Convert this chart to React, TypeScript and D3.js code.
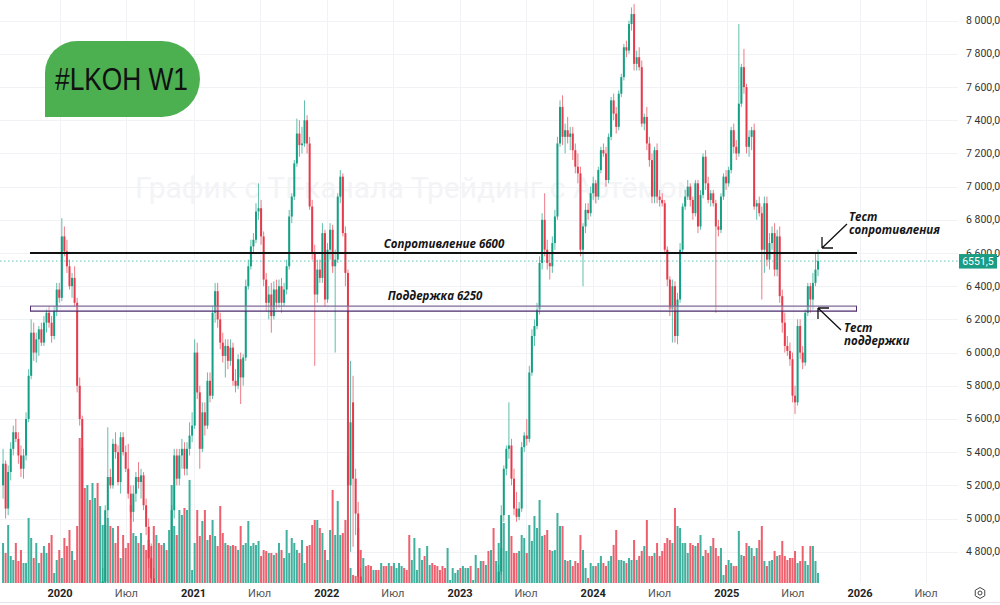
import { useEffect, useRef } from 'react'
import * as d3 from 'd3'

// weekly candles: [open, high, low, close]
type Candle = [number, number, number, number]

const firstWeek = new Date(2019, 6, 29)

const candles2019: Candle[] = [
  [5200, 5420, 5120, 5330], [5330, 5350, 5000, 5060], [5060, 5320, 5020, 5280], [5280, 5460, 5230, 5420],
  [5420, 5560, 5380, 5520], [5520, 5600, 5460, 5480], [5480, 5520, 5330, 5380], [5380, 5440, 5250, 5300],
  [5300, 5420, 5240, 5380], [5380, 5640, 5350, 5600], [5600, 5900, 5580, 5860], [5860, 6200, 5840, 6120],
  [6120, 6180, 5950, 6000], [6000, 6120, 5940, 6080], [6080, 6160, 5980, 6140], [6140, 6180, 6040, 6060],
  [6060, 6220, 6040, 6180], [6180, 6260, 6120, 6240], [6240, 6280, 6150, 6180], [6180, 6220, 6060, 6100],
  [6100, 6280, 6080, 6250], [6250, 6420, 6220, 6380], [6380, 6420, 6300, 6330],
]

const candles2020: Candle[] = [
  [6330, 6810, 6310, 6700], [6700, 6760, 6580, 6610], [6610, 6680, 6480, 6520], [6520, 6560, 6380, 6400],
  [6400, 6480, 6330, 6450], [6450, 6520, 6280, 6300], [6300, 6330, 5760, 5800], [5800, 5850, 5560, 5600],
  [5600, 5620, 4300, 4450], [4450, 4600, 3700, 4000], [4000, 4300, 3600, 4150], [4150, 4350, 3900, 4050],
  [4050, 4400, 4000, 4300], [4300, 4500, 4200, 4450], [4450, 4550, 4250, 4350], [4350, 4600, 4300, 4550],
  [4550, 4700, 4450, 4620], [4620, 5080, 4600, 5050], [5050, 5550, 5000, 5250], [5250, 5300, 5180, 5200],
  [5200, 5480, 5180, 5450], [5450, 5520, 5360, 5400], [5400, 5440, 5200, 5220], [5220, 5520, 5150, 5490],
  [5490, 5520, 5380, 5400], [5400, 5440, 5280, 5300], [5300, 5450, 5120, 5150], [5150, 5200, 5000, 5040],
  [5040, 5200, 4980, 5150], [5150, 5280, 5100, 5250], [5250, 5340, 5180, 5220], [5220, 5300, 5120, 5260],
  [5260, 5280, 5050, 5080], [5080, 5120, 4900, 4950], [4950, 5000, 4700, 4760], [4760, 4850, 4600, 4640],
  [4640, 4700, 4400, 4450], [4450, 4600, 4380, 4520], [4520, 4560, 4250, 4300], [4300, 4380, 4100, 4150],
  [4150, 4250, 4050, 4200], [4200, 4280, 4000, 4080], [4080, 4500, 4060, 4450], [4450, 5080, 4420, 5050],
  [5050, 5420, 5000, 5380], [5380, 5420, 5200, 5240], [5240, 5420, 5200, 5380], [5380, 5480, 5300, 5420],
  [5420, 5460, 5260, 5300], [5300, 5460, 5260, 5420], [5420, 5580, 5380, 5500], [5500, 5640, 5460, 5560],
]

const candles2021: Candle[] = [
  [5560, 6080, 5540, 6000], [6000, 6060, 5720, 5760], [5760, 5800, 5300, 5420], [5420, 5700, 5400, 5640],
  [5640, 5700, 5500, 5560], [5560, 5880, 5540, 5830], [5830, 5880, 5700, 5740], [5740, 6280, 5720, 6240],
  [6240, 6420, 6180, 6370], [6370, 6420, 6150, 6200], [6200, 6240, 6020, 6060], [6060, 6120, 5940, 5980],
  [5980, 6080, 5850, 6040], [6040, 6080, 5900, 5950], [5950, 6080, 5920, 6030], [6030, 6060, 5800, 5830],
  [5830, 5900, 5760, 5800], [5800, 5990, 5780, 5960], [5960, 6000, 5690, 5850], [5850, 5990, 5800, 5970],
  [5970, 6440, 5950, 6400], [6400, 6560, 6380, 6520], [6520, 6680, 6500, 6640], [6640, 6720, 6600, 6680],
  [6680, 6900, 6660, 6850], [6850, 7020, 6800, 6870], [6870, 6920, 6650, 6700], [6700, 6730, 6400, 6440],
  [6440, 6480, 6250, 6300], [6300, 6400, 6200, 6350], [6350, 6420, 6120, 6220], [6220, 6430, 6200, 6380],
  [6380, 6440, 6260, 6300], [6300, 6440, 6270, 6400], [6400, 6450, 6240, 6300], [6300, 6420, 6280, 6380],
  [6380, 6560, 6350, 6520], [6520, 6860, 6500, 6820], [6820, 6960, 6780, 6940], [6940, 7160, 6920, 7140],
  [7140, 7410, 7120, 7320], [7320, 7400, 7180, 7250], [7250, 7360, 7200, 7260], [7260, 7520, 7240, 7400],
  [7400, 7430, 7200, 7260], [7260, 7300, 6860, 6880], [6880, 6920, 6560, 6600], [6600, 6650, 5920, 6350],
  [6350, 6560, 6300, 6500], [6500, 6560, 6420, 6450], [6450, 6780, 6420, 6720], [6720, 6740, 6280, 6320],
]

const candles2022: Candle[] = [
  [6320, 6660, 6300, 6620], [6620, 6780, 6560, 6740], [6740, 6770, 6480, 6520], [6520, 6620, 6000, 6560],
  [6560, 6960, 6540, 6940], [6940, 7100, 6900, 7060], [7060, 7080, 6700, 6720], [6720, 6760, 6400, 6480],
  [6480, 6500, 2900, 5200], [5200, 5950, 4800, 5580], [5700, 5860, 4830, 5240], [5240, 5300, 4900, 5030],
  [5030, 5100, 4500, 4650], [4650, 4700, 4300, 4420], [4420, 4600, 4350, 4550], [4550, 4600, 4400, 4480],
  [4480, 4560, 4350, 4400], [4400, 4500, 4250, 4300], [4300, 4420, 4200, 4380], [4380, 4450, 4250, 4280],
  [4280, 4350, 4100, 4150], [4150, 4250, 4050, 4200], [4200, 4300, 4100, 4120], [4120, 4200, 3950, 4000],
  [4000, 4100, 3900, 4050], [4050, 4150, 3950, 3980], [3980, 4080, 3900, 4020], [4020, 4200, 4000, 4150],
  [4150, 4300, 4100, 4250], [4250, 4400, 4200, 4350], [4350, 4450, 4250, 4300], [4300, 4400, 4150, 4200],
  [4200, 4250, 3700, 3850], [3850, 4000, 3650, 3950], [3950, 4150, 3900, 4100], [4100, 4200, 4000, 4150],
  [4150, 4250, 4050, 4200], [4200, 4350, 4150, 4300], [4300, 4400, 4200, 4250], [4250, 4350, 4150, 4320],
  [4320, 4420, 4250, 4380], [4380, 4450, 4300, 4350], [4350, 4400, 4200, 4250], [4250, 4350, 4150, 4200],
  [4200, 4300, 4100, 4150], [4150, 4250, 4050, 4100], [4100, 4200, 4000, 4050], [4050, 4150, 3950, 4080],
  [4080, 4150, 4000, 4100], [4100, 4200, 4050, 4150], [4150, 4250, 4100, 4200], [4200, 4300, 4150, 4250],
]

const candles2023: Candle[] = [
  [4250, 4300, 4150, 4200], [4200, 4350, 4150, 4300], [4300, 4400, 4250, 4350], [4350, 4450, 4300, 4420],
  [4420, 4480, 4350, 4380], [4380, 4450, 4300, 4400], [4400, 4500, 4350, 4450], [4450, 4520, 4380, 4420],
  [4420, 4500, 4350, 4480], [4480, 4550, 4400, 4450], [4450, 4550, 4420, 4520], [4520, 4600, 4450, 4500],
  [4500, 4600, 4450, 4580], [4580, 4620, 4480, 4520], [4520, 4600, 4450, 4560], [4560, 4720, 4520, 4680],
  [4680, 5080, 4660, 5020], [5020, 5320, 4980, 5300], [5300, 5440, 5260, 5420], [5420, 5700, 5360, 5440],
  [5440, 5480, 5200, 5240], [5240, 5300, 5020, 5060], [5060, 5160, 4980, 5010], [5010, 5100, 4990, 5060],
  [5060, 5460, 5040, 5430], [5430, 5520, 5400, 5500], [5500, 5600, 5440, 5480], [5480, 5920, 5460, 5880],
  [5880, 6140, 5860, 6100], [6100, 6200, 6040, 6160], [6160, 6300, 6140, 6260], [6260, 6580, 6230, 6540],
  [6540, 6840, 6500, 6800], [6800, 6960, 6580, 6620], [6620, 6680, 6500, 6540], [6540, 6600, 6440, 6520],
  [6520, 6700, 6480, 6660], [6660, 6860, 6620, 6820], [6820, 7300, 6800, 7260], [7260, 7520, 7240, 7480],
  [7480, 7550, 7250, 7300], [7300, 7380, 7200, 7340], [7340, 7420, 7260, 7300], [7300, 7360, 7220, 7320],
  [7320, 7360, 7160, 7220], [7220, 7260, 7080, 7120], [7120, 7200, 7020, 7080], [7080, 7120, 6580, 6620],
  [6620, 6780, 6400, 6760], [6760, 6900, 6720, 6860], [6860, 6900, 6800, 6840], [6840, 7000, 6820, 6960],
]

const candles2024: Candle[] = [
  [6960, 7060, 6920, 7020], [7020, 7040, 6900, 6940], [6940, 7120, 6920, 7100], [7100, 7240, 7080, 7220],
  [7220, 7260, 7180, 7200], [7200, 7240, 7000, 7040], [7040, 7320, 7020, 7300], [7300, 7540, 7280, 7520],
  [7520, 7560, 7400, 7440], [7440, 7480, 7320, 7360], [7360, 7580, 7340, 7560], [7560, 7680, 7540, 7660],
  [7660, 7860, 7640, 7840], [7840, 7880, 7780, 7820], [7820, 8000, 7800, 7980], [7980, 8080, 7940, 8040],
  [8040, 8100, 7700, 7740], [7740, 7820, 7700, 7780], [7780, 7840, 7700, 7720], [7720, 7760, 7360, 7380],
  [7380, 7440, 7340, 7420], [7420, 7480, 7220, 7260], [7260, 7300, 7120, 7160], [7160, 7200, 6900, 6940],
  [6940, 7240, 6900, 7220], [7220, 7260, 6900, 6940], [6940, 6980, 6880, 6920], [6920, 6960, 6880, 6900],
  [6900, 6920, 6600, 6620], [6620, 6640, 6400, 6440], [6440, 6460, 6220, 6260], [6260, 6440, 6060, 6400],
  [6400, 6430, 6060, 6100], [6100, 6360, 6050, 6320], [6320, 6660, 6300, 6620], [6620, 6900, 6600, 6880],
  [6880, 6980, 6860, 6940], [6940, 7040, 6920, 7000], [7000, 7020, 6880, 6920], [6920, 6940, 6800, 6840],
  [6840, 7040, 6820, 7020], [7020, 7040, 6720, 6760], [6760, 6980, 6740, 6950], [6950, 7200, 6930, 7180],
  [7180, 7220, 6980, 7020], [7020, 7060, 6900, 6920], [6920, 6980, 6880, 6960], [6960, 6980, 6880, 6900],
  [6900, 6920, 6240, 6760], [6760, 6800, 6700, 6740], [6740, 6960, 6720, 6940], [6940, 7080, 6920, 7060],
  [7060, 7100, 6980, 7020],
]

const candles2025: Candle[] = [
  [7020, 7120, 7000, 7100], [7100, 7360, 7080, 7340], [7340, 7380, 7200, 7240], [7240, 7280, 7160, 7200],
  [7200, 7980, 7180, 7500], [7500, 7740, 7480, 7720], [7720, 7830, 7560, 7600], [7600, 7620, 7200, 7240],
  [7240, 7340, 7180, 7300], [7300, 7360, 7220, 7340], [7340, 7380, 6860, 6880], [6880, 6920, 6800, 6900],
  [6900, 6940, 6820, 6840], [6840, 6880, 6320, 6620], [6620, 6940, 6480, 6900], [6900, 6940, 6520, 6560],
  [6560, 6720, 6500, 6660], [6660, 6760, 6620, 6720], [6720, 6780, 6460, 6500], [6500, 6740, 6460, 6700],
  [6700, 6760, 6300, 6340], [6340, 6380, 6120, 6180], [6180, 6240, 6000, 6040], [6040, 6100, 5980, 6010],
  [6010, 6060, 5920, 5960], [5960, 6000, 5700, 5740], [5740, 5800, 5630, 5700], [5700, 6200, 5680, 6160],
  [6160, 6200, 5960, 6000], [6000, 6040, 5900, 5940], [5940, 6260, 5920, 6240], [6240, 6420, 6220, 6400],
  [6400, 6420, 6240, 6320], [6320, 6480, 6260, 6420], [6420, 6600, 6400, 6500], [6500, 6620, 6460, 6551.5],
]

// weekly volume, millions of shares
const volume2019 = [4.0, 3.0, 5.8, 2.7, 2.3, 4.0, 2.2, 3.3, 2.0, 2.0, 6.5, 4.5, 2.5, 4.0, 2.0, 3.0, 3.7, 3.0, 4.0, 4.8, 1.0, 2.3, 3.3]
const volume2020 = [2.5, 4.5, 3.7, 5.3, 3.2, 2.3, 5.7, 14.5, 13.5, 9.5, 9.8, 8.3, 10.0, 8.5, 10.0, 7.7, 5.8, 5.8, 6.5, 5.7,
  5.5, 4.0, 5.7, 2.5, 4.8, 3.5, 4.0, 7.8, 5.0, 4.7, 4.0, 5.0, 3.8, 3.3, 4.3, 3.7, 5.7, 4.8, 4.0, 3.8,
  4.0, 3.3, 5.3, 9.8, 5.7, 4.8, 7.3, 6.8, 7.5, 7.3, 10.3, 1.3]
const volume2021 = [4.0, 7.3, 4.7, 6.2, 7.3, 4.3, 4.8, 6.3, 4.7, 3.7, 7.7, 5.0, 4.0, 3.8, 3.7, 3.8, 3.7, 3.3, 5.7, 3.8,
  4.0, 6.2, 3.7, 4.0, 3.8, 4.2, 2.7, 3.3, 3.2, 3.0, 3.0, 2.8, 3.0, 4.0, 3.3, 2.5, 5.3, 3.0, 4.5, 4.0,
  3.3, 3.0, 4.3, 2.0, 3.7, 3.8, 5.8, 6.3, 6.3, 5.5, 5.0, 3.3]
const volume2022 = [2.3, 5.3, 9.3, 4.8, 8.2, 4.8, 5.0, 6.3, 12.7, 1.5, 0.8, 0.7, 5.5, 3.3, 2.5, 1.7, 1.8, 1.7, 1.3, 1.3,
  1.3, 2.0, 1.7, 1.7, 2.0, 1.7, 2.0, 1.5, 2.0, 1.7, 1.5, 1.3, 4.8, 2.3, 4.5, 1.3, 3.5, 2.3, 2.7, 3.7,
  1.8, 2.0, 1.8, 1.7, 1.3, 1.7, 1.5, 3.5, 0.3, 1.5, 1.0, 1.3]
const volume2023 = [1.5, 1.7, 1.5, 1.5, 1.7, 0.3, 2.8, 1.5, 2.2, 2.2, 1.8, 3.2, 3.3, 5.5, 2.2, 4.0, 3.5, 6.0, 3.2, 6.8,
  4.7, 3.0, 3.0, 3.2, 4.8, 4.5, 3.0, 5.8, 4.2, 6.7, 5.5, 8.3, 4.7, 4.8, 5.3, 3.3, 3.2, 3.3, 7.0, 5.7,
  5.7, 2.3, 2.2, 2.3, 1.7, 2.2, 2.0, 4.8, 3.3, 1.5, 0.5, 2.0]
const volume2024 = [1.7, 1.7, 2.0, 2.7, 2.0, 1.7, 2.2, 2.7, 3.8, 5.3, 2.3, 2.3, 2.2, 2.0, 2.5, 2.3, 4.3, 2.3, 2.7, 3.2,
  3.7, 6.3, 2.7, 2.7, 3.0, 4.0, 2.7, 3.2, 4.0, 4.5, 4.3, 4.0, 7.5, 5.7, 5.5, 4.0, 4.0, 3.0, 4.0, 3.8,
  3.7, 4.0, 4.8, 2.7, 3.3, 3.0, 3.7, 4.5, 3.5, 2.7, 3.5, 0.8, 1.8]
const volume2025 = [2.3, 2.0, 1.7, 1.7, 5.2, 2.8, 2.7, 4.0, 3.7, 3.5, 2.7, 3.5, 4.3, 5.7, 2.2, 1.7, 2.2, 2.3, 3.2, 2.7,
  2.8, 4.2, 2.7, 2.3, 2.5, 2.5, 3.2, 2.0, 2.2, 3.7, 2.2, 1.8, 3.7, 3.7, 2.2, 1.0]

const priceTicks = [4800, 5000, 5200, 5400, 5600, 5800, 6000, 6200, 6400, 6600, 6800, 7000, 7200, 7400, 7600, 7800, 8000]
const timeTicks = ['2020-01-01', '2020-07-01', '2021-01-01', '2021-07-01', '2022-01-01', '2022-07-01', '2023-01-01',
  '2023-07-01', '2024-01-01', '2024-07-01', '2025-01-01', '2025-07-01', '2026-01-01', '2026-07-01']
const timeLabels = ['2020', 'Июл', '2021', 'Июл', '2022', 'Июл', '2023', 'Июл', '2024', 'Июл', '2025', 'Июл', '2026', 'Июл']

const resistance = 6600
const supportBand = [6250, 6280]
const lastPrice = 6551.5

const UP = '#14a085'
const DOWN = '#e63b4c'
const UI_FONT = 'Roboto, "Liberation Sans", sans-serif'
const NOTE_FONT = '"Open Sans", "Noto Sans", sans-serif'

export default function App() {
  const svgRef = useRef<SVGSVGElement>(null)

  useEffect(() => {
    if (!svgRef.current) return
    const candles = [...candles2019, ...candles2020, ...candles2021, ...candles2022, ...candles2023, ...candles2024, ...candles2025]
    const volumes = [...volume2019, ...volume2020, ...volume2021, ...volume2022, ...volume2023, ...volume2024, ...volume2025]

    const width = 1000
    const plotRight = 958
    const plotBottom = 583

    const svg = d3.select(svgRef.current)
    svg.selectAll('*').remove()
    svg.attr('width', width).attr('height', 605)

    const x = d3.scaleTime()
      .domain([new Date(2020, 0, 1), new Date(2026, 0, 1)])
      .range([60, 860])
    const y = d3.scaleLinear().domain([4800, 8000]).range([551.7, 20.7])
    const vy = d3.scaleLinear().domain([0, 15]).range([plotBottom, plotBottom - 150])

    const weekX = (i: number) => x(d3.timeDay.offset(firstWeek, 7 * i))

    svg.append('rect').attr('width', width).attr('height', 605).attr('fill', '#fff')

    // grid
    const grid = svg.append('g').attr('stroke', '#f0f2f6').attr('stroke-width', 1)
    priceTicks.forEach(p => {
      grid.append('line').attr('x1', 0).attr('x2', plotRight).attr('y1', Math.round(y(p)) + 0.5).attr('y2', Math.round(y(p)) + 0.5)
    })
    timeTicks.forEach(t => {
      const tx = Math.round(x(new Date(t))) + 0.5
      grid.append('line').attr('x1', tx).attr('x2', tx).attr('y1', 0).attr('y2', plotBottom)
    })

    // watermark
    svg.append('text')
      .attr('x', 135).attr('y', 198)
      .attr('font-family', UI_FONT).attr('font-size', 30)
      .attr('fill', '#f3f4f6')
      .text('График с ТГ-канала Трейдинг с Артёмом')

    const clip = svg.append('defs').append('clipPath').attr('id', 'plot-clip')
    clip.append('rect').attr('x', 0).attr('y', 0).attr('width', plotRight).attr('height', plotBottom)
    const plot = svg.append('g').attr('clip-path', 'url(#plot-clip)')

    // volume
    const vol = plot.append('g')
    volumes.forEach((v, i) => {
      const [o, , , c] = candles[i]
      const cx = weekX(i)
      vol.append('rect')
        .attr('x', cx - 1).attr('y', vy(v))
        .attr('width', 2).attr('height', plotBottom - vy(v))
        .attr('fill', c >= o ? '#2aa893' : '#ec4f5e')
        .attr('opacity', 0.9)
    })

    // candles
    const cg = plot.append('g')
    candles.forEach(([o, h, l, c], i) => {
      const cx = weekX(i)
      const col = c >= o ? UP : DOWN
      cg.append('line')
        .attr('x1', cx).attr('x2', cx)
        .attr('y1', y(h)).attr('y2', y(l))
        .attr('stroke', col).attr('stroke-width', 0.9).attr('opacity', 0.75)
      const top = y(Math.max(o, c))
      cg.append('rect')
        .attr('x', cx - 1).attr('y', top)
        .attr('width', 2).attr('height', Math.max(1, y(Math.min(o, c)) - top))
        .attr('fill', col)
    })

    // last price line
    svg.append('line')
      .attr('x1', 0).attr('x2', plotRight)
      .attr('y1', y(lastPrice)).attr('y2', y(lastPrice))
      .attr('stroke', '#3fb3a0').attr('stroke-width', 1).attr('stroke-dasharray', '1.5 2.5').attr('opacity', 0.8)

    // support band
    const bandTop = y(supportBand[1])
    const bandBottom = y(supportBand[0])
    svg.append('rect')
      .attr('x', 30).attr('y', bandTop).attr('width', 827).attr('height', bandBottom - bandTop)
      .attr('fill', '#efe4f7').attr('opacity', 0.35)
    svg.append('line').attr('x1', 30).attr('x2', 857).attr('y1', bandTop).attr('y2', bandTop)
      .attr('stroke', '#7f6b96').attr('stroke-width', 1.4)
    svg.append('line').attr('x1', 30).attr('x2', 857).attr('y1', bandBottom).attr('y2', bandBottom)
      .attr('stroke', '#4b2b6d').attr('stroke-width', 1.4)
    svg.append('line').attr('x1', 30.5).attr('x2', 30.5).attr('y1', bandTop).attr('y2', bandBottom)
      .attr('stroke', '#4b2b6d').attr('stroke-width', 1)
    svg.append('line').attr('x1', 856.5).attr('x2', 856.5).attr('y1', bandTop).attr('y2', bandBottom)
      .attr('stroke', '#4b2b6d').attr('stroke-width', 1)

    // resistance
    svg.append('line')
      .attr('x1', 30).attr('x2', 857).attr('y1', y(resistance)).attr('y2', y(resistance))
      .attr('stroke', '#111').attr('stroke-width', 2)

    const note = (tx: number, ty: number, s: string, size = 11.5) =>
      svg.append('text')
        .attr('x', tx).attr('y', ty)
        .attr('font-family', NOTE_FONT).attr('font-size', size)
        .attr('font-style', 'italic').attr('font-weight', 700)
        .attr('fill', '#151515')
        .text(s)

    note(444, y(resistance) - 5, 'Сопротивление 6600').attr('text-anchor', 'middle')
    note(435, bandTop - 6, 'Поддержка 6250').attr('text-anchor', 'middle')
    note(849, 221, 'Тест')
    note(849, 234, 'сопротивления')
    note(844, 332, 'Тест')
    note(844, 345, 'поддержки')

    // arrows
    const arrows = svg.append('g').attr('stroke', '#111').attr('stroke-width', 1.3).attr('fill', 'none')
    arrows.append('path').attr('d', 'M847,224 L822,248 M822,248 L833,248 M822,248 L822,237')
    arrows.append('path').attr('d', 'M841,330 L818,308 M818,308 L829,308 M818,308 L818,319')

    // price axis
    const numFmt = d3.formatLocale({ decimal: ',', thousands: ' ', grouping: [3], currency: ['', ''] })
    const axisFmt = numFmt.format(',.1f')
    const lastFmt = numFmt.format('.1f')
    priceTicks.forEach(p => {
      svg.append('text')
        .attr('x', 966).attr('y', y(p) + 3.5)
        .attr('font-family', UI_FONT).attr('font-size', 10.5)
        .attr('fill', '#333').text(axisFmt(p))
    })
    svg.append('rect')
      .attr('x', 959).attr('y', y(lastPrice) - 7).attr('width', 38).attr('height', 14.5)
      .attr('fill', '#1a9c85')
    svg.append('text')
      .attr('x', 978).attr('y', y(lastPrice) + 4)
      .attr('text-anchor', 'middle')
      .attr('font-family', UI_FONT).attr('font-size', 10.5)
      .attr('fill', '#fff').text(lastFmt(lastPrice))

    // time axis
    timeTicks.forEach((t, i) => {
      const isYear = timeLabels[i] !== 'Июл'
      svg.append('text')
        .attr('x', x(new Date(t))).attr('y', 597)
        .attr('text-anchor', 'middle')
        .attr('font-family', UI_FONT).attr('font-size', 11)
        .attr('font-weight', isYear ? 700 : 400)
        .attr('fill', isYear ? '#222' : '#555')
        .text(timeLabels[i])
    })
    svg.append('line').attr('x1', 0).attr('x2', width).attr('y1', 602.5).attr('y2', 602.5)
      .attr('stroke', '#e3e5ea')

    // settings icon
    const gear = svg.append('g').attr('fill', 'none').attr('stroke', '#444').attr('stroke-width', 1)
    gear.append('path').attr('d', d3.range(6).map(k => {
      const a = Math.PI / 3 * k + Math.PI / 6
      return `${k ? 'L' : 'M'}${980 + 5.5 * Math.cos(a)},${593 + 5.5 * Math.sin(a)}`
    }).join('') + 'Z')
    gear.append('circle').attr('cx', 980).attr('cy', 593).attr('r', 2)

    // ticker badge
    svg.append('path')
      .attr('d', 'M45,117 L45,73 A32,32 0 0 1 77,41 L162,41 A38,38 0 0 1 162,117 Z')
      .attr('fill', '#4caf50')
    svg.append('text')
      .attr('x', 55).attr('y', 90)
      .attr('font-family', '"Liberation Sans", Arial, sans-serif').attr('font-size', 31)
      .attr('textLength', 133).attr('lengthAdjust', 'spacingAndGlyphs')
      .attr('fill', '#111')
      .text('#LKOH W1')
  }, [])

  return (
    <div>
      <style>{'body{margin:0}'}</style>
      <svg ref={svgRef} style={{ display: 'block' }} />
    </div>
  )
}
